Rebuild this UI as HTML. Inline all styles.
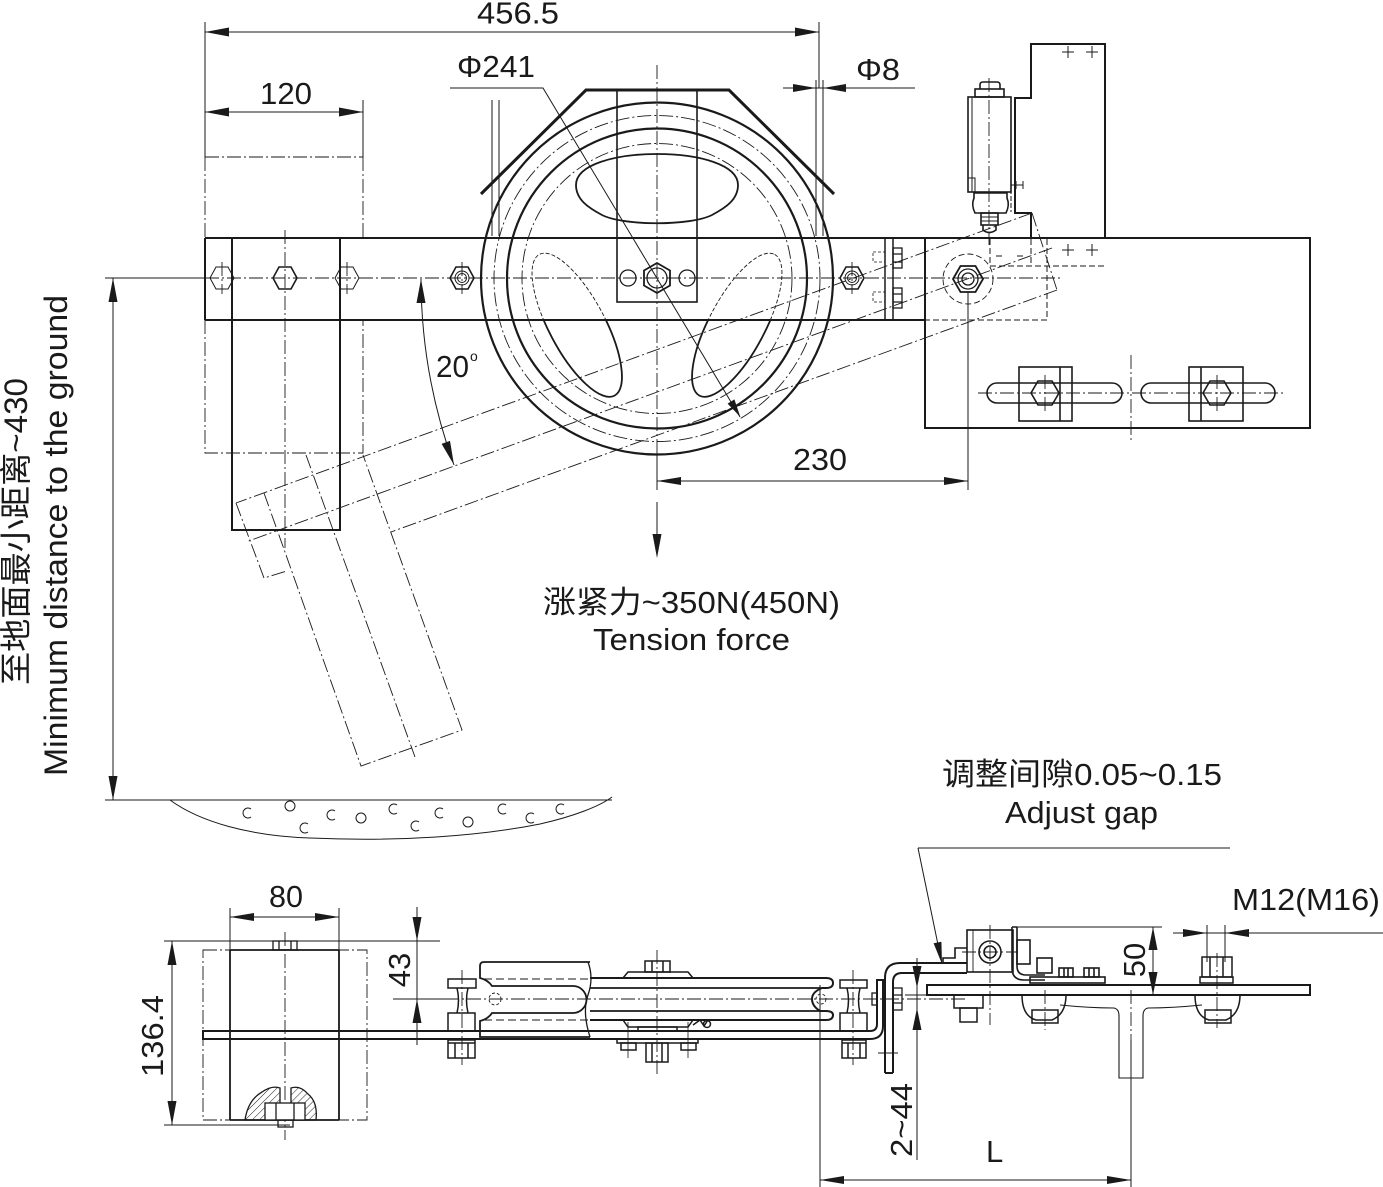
<!DOCTYPE html>
<html><head><meta charset="utf-8"><style>
html,body{margin:0;padding:0;background:#fff;}
svg{display:block;}
text{font-family:"Liberation Sans","Noto Sans CJK SC",sans-serif;fill:#1a1a1a;stroke:none;}
</style></head><body>
<svg width="1383" height="1187" viewBox="0 0 1383 1187" xmlns="http://www.w3.org/2000/svg">
<defs>
<pattern id="hatch" width="5" height="5" patternUnits="userSpaceOnUse" patternTransform="rotate(45)"><line x1="0" y1="0" x2="0" y2="5" stroke="#222" stroke-width="1"/></pattern>
<clipPath id="inbar"><rect x="400" y="238" width="500" height="82"/></clipPath>
<clipPath id="outbar"><rect x="400" y="320" width="500" height="200"/></clipPath>
</defs>
<g fill="none" stroke="#1a1a1a">

<!-- ===== TOP VIEW: dimension lines ===== -->
<g stroke-width="1">
<path d="M205,22 V157 M819,22 V88 M363,100 V157"/>
<path d="M205,32 H819 M205,112 H363 M783,88 H915"/>
<path d="M450,88 H543 L740,417"/>
<path d="M657,453 V490 M968,292 V490 M657,481 H968 M657,502 V540"/>
<path d="M105,278 H205 M113,278 V800 M105,800 H612"/>
<path d="M816,80 V236 M823,80 V236 M492,100 V236 M499,100 V236"/>
</g>
<g fill="#1a1a1a" stroke="none">
<polygon points="205,32 229,27.5 229,36.5"/><polygon points="819,32 795,27.5 795,36.5"/>
<polygon points="205,112 229,107.5 229,116.5"/><polygon points="363,112 339,107.5 339,116.5"/>
<polygon points="816,88 793,84 793,92"/><polygon points="823,88 846,84 846,92"/>
<polygon points="113,278 108.5,302 117.5,302"/><polygon points="113,800 108.5,776 117.5,776"/>
<polygon points="657,481 681,477 681,485"/><polygon points="968,481 944,477 944,485"/>
<polygon points="657,558 652.5,534 661.5,534"/>
<polygon points="740.3,416.9 734.4,399.4 727.6,403.6"/>
<polygon points="421,279 416.5,303 425.5,303"/>
<polygon points="454,465 450,440.9 441.6,443.9"/>
</g>
<!-- 20 deg arc -->
<path d="M421,279 A547,547 0 0,0 454,465" stroke-width="1"/>

<!-- centerlines -->
<g stroke-width="0.9" stroke-dasharray="14 3 2 3">
<path d="M205,278 H1060"/>
<path d="M657,65 V453"/>
<path d="M285,230 V548"/>
<path d="M222,262 V294 M347,262 V294 M462,262 V294 M852,262 V294"/>
<path d="M989,78 V245"/>
<path d="M978,393 H1285 M1131,355 V443 M1045,375 V411 M1217,375 V411"/>
<path d="M205,157 H363 M205,157 V238 M363,157 V238"/>
<path d="M205,320 V453 H363 V320"/>
<!-- rotated arm -->
<path d="M1032,213 L236,503 M1052,248 L246,542 M1057,290 L391,532"/>
<path d="M1032,213 L1057,290 M236,503 L264,578 L287,571"/>
<path d="M264,493 L361,766 L462,730 L363,455"/>
<path d="M306,455 L415,757"/>
</g>

<!-- bar & bracket -->
<g stroke-width="2">
<path d="M205,238 H1310 M205,320 H925 M205,238 V320"/>
<path d="M232,238 V530 H340 V238"/>
<path d="M885,238 V320 M893,238 V320" stroke-width="1.5"/>
</g>
<!-- hexes on bar -->
<g stroke-width="1">
<polygon points="210,278 216,267 228,267 234,278 228,289 216,289"/>
<polygon points="335,278 341,267 353,267 359,278 353,289 341,289"/>
</g>
<g stroke-width="1.6">
<polygon points="273,278 279,267 291,267 297,278 291,289 279,289"/>
<polygon points="450,278 456,267 468,267 474,278 468,289 456,289"/>
<polygon points="840,278 846,267 858,267 864,278 858,289 846,289"/>
</g>
<g stroke-width="1">
<circle cx="462" cy="278" r="7"/><circle cx="462" cy="278" r="4.5"/>
<circle cx="852" cy="278" r="7"/><circle cx="852" cy="278" r="4.5"/>
</g>
<!-- bolt heads near 893 -->
<g stroke-width="1.3">
<rect x="893" y="248" width="9" height="20"/><path d="M893,254 H902 M893,262 H902"/>
<rect x="893" y="288" width="9" height="20"/><path d="M893,294 H902 M893,302 H902"/>
</g>
<g stroke-width="0.8" stroke-dasharray="3 2">
<rect x="873" y="252" width="12" height="10"/><rect x="873" y="292" width="12" height="10"/>
</g>

<!-- wheel -->
<g>
<circle cx="657" cy="278.5" r="176" stroke-width="2.2"/>
<circle cx="657" cy="278.5" r="163" stroke-width="0.9" stroke-dasharray="14 3 2 3"/>
<circle cx="657" cy="278.5" r="150" stroke-width="2.2"/>
<circle cx="657" cy="278.5" r="135" stroke-width="0.9" stroke-dasharray="14 3 2 3"/>
</g>
<path d="M657,154 C700,154 738,165 738,185 C738,200 725,208 712,215 C690,226 624,226 602,215 C589,208 576,200 576,185 C576,165 614,154 657,154 Z" stroke-width="1.8"/>
<g clip-path="url(#inbar)" stroke-width="0.9" stroke-dasharray="4 2">
<ellipse cx="577" cy="325" rx="80" ry="28" transform="rotate(62 577 325)"/>
<ellipse cx="737" cy="325" rx="80" ry="28" transform="rotate(-62 737 325)"/>
</g>
<g clip-path="url(#outbar)" stroke-width="1.8">
<ellipse cx="577" cy="325" rx="80" ry="28" transform="rotate(62 577 325)"/>
<ellipse cx="737" cy="325" rx="80" ry="28" transform="rotate(-62 737 325)"/>
</g>
<!-- guard -->
<polyline points="481,194 586,90 729,90 834,194" stroke-width="3"/>
<!-- vertical plate -->
<rect x="617" y="90" width="80" height="212" stroke-width="1.6"/>
<g stroke-width="1.3">
<circle cx="628" cy="278" r="8"/><circle cx="687" cy="278" r="8"/>
<polygon points="657,263 670,270.5 670,285.5 657,293 644,285.5 644,270.5" stroke-width="1.8"/>
<circle cx="657" cy="278" r="10"/>
</g>

<!-- right bracket -->
<path d="M1031,238 V213 H1015 V98 H1031 V44 H1105 V238" stroke-width="2"/>
<path d="M1011,98 V212" stroke-width="1" stroke-dasharray="5 2"/>
<g stroke-width="1">
<path d="M1062,52 H1074 M1068,46 V58 M1086,52 H1098 M1092,46 V58"/>
<path d="M1062,250 H1074 M1068,244 V256 M1086,250 H1098 M1092,244 V256"/>
<path d="M996,256 H1002 M1017,256 H1023"/>
</g>
<g stroke-width="1" stroke-dasharray="6 3">
<path d="M990,239 V266 H1105 M1031,239 V266 M1047,239 V320 H925"/>
</g>
<!-- switch -->
<g stroke-width="1.6">
<rect x="968" y="97" width="43" height="95"/>
<rect x="975" y="89" width="29" height="8"/>
<path d="M980,89 V85 Q980,82 983,82 H997 Q1000,82 1000,85 V89"/>
<path d="M974,193 H1007 V198 Q1010,205 1006,213 H975 Q971,205 974,198 Z"/>
<rect x="981" y="213" width="17" height="12"/>
<path d="M983,225 V230 Q989,235 996,230 V225"/>
</g>
<g stroke-width="1">
<path d="M972,97 V192 M968,178 H975 V192 M981,217 H998 M981,221 H998"/>
<path d="M1011,185 H1023 M1016,181 V189 M1023,181 V189"/>
</g>
<!-- pivot -->
<circle cx="968" cy="279" r="25" stroke-width="0.9" stroke-dasharray="6 3"/>
<polygon points="953,279 960.5,266 975.5,266 983,279 975.5,292 960.5,292" stroke-width="1.8"/>
<circle cx="968" cy="279" r="10" stroke-width="1.3"/>
<circle cx="968" cy="279" r="6" stroke-width="1.3"/>
<!-- right plate -->
<rect x="925" y="238" width="385" height="190" stroke-width="2"/>
<g stroke-width="1.6">
<rect x="987" y="383" width="135" height="20" rx="10"/>
<rect x="1141" y="383" width="134" height="20" rx="10"/>
<rect x="1019" y="367" width="53" height="54"/><path d="M1060,367 V421"/>
<rect x="1189" y="367" width="54" height="54"/><path d="M1201,367 V421"/>
<polygon points="1031,393 1038,381 1052,381 1059,393 1052,405 1038,405"/>
<polygon points="1203,393 1210,381 1224,381 1231,393 1224,405 1210,405"/>
</g>

<!-- ground -->
<path d="M170,800 C200,822 250,836 310,838 C400,842 480,836 540,824 C575,816 600,806 612,797" stroke-width="1"/>
<g stroke-width="1">
<path d="M251,809 A5,5 0 1 0 251,817"/><circle cx="290" cy="806" r="5"/><path d="M308,824 A5,5 0 1 0 308,832"/>
<path d="M335,811 A5,5 0 1 0 335,819"/><circle cx="361" cy="818" r="5"/><path d="M397,805 A5,5 0 1 0 397,813"/>
<path d="M419,822 A5,5 0 1 0 419,830"/><path d="M443,809 A5,5 0 1 0 443,817"/><circle cx="468" cy="822" r="5"/>
<path d="M506,805 A5,5 0 1 0 506,813"/><path d="M534,814 A5,5 0 1 0 534,822"/><path d="M564,805 A5,5 0 1 0 564,813"/>
</g>

<!-- ===== BOTTOM VIEW ===== -->
<g stroke-width="1">
<path d="M230,908 V950 M339,908 V950 M230,917 H339"/>
<path d="M164,941 H440 M164,1125 H290 M172,941 V1125"/>
<path d="M417,907 V1045 M393,999 H445"/>
<path d="M917,958 V1160 M905,995 H930"/>
<path d="M820,985 V1187 M820,1180 H1131 M1131,1040 V1187"/>
<path d="M1017,927 H1162 M1153,927 V995"/>
<path d="M1207,925 V962 M1225,925 V962 M1173,933 H1383"/>
<path d="M918,848 H1230 M918,848 L942,964"/>
</g>
<g fill="#1a1a1a" stroke="none">
<polygon points="230,917 254,913 254,921"/><polygon points="339,917 315,913 315,921"/>
<polygon points="172,941 167.5,965 176.5,965"/><polygon points="172,1125 167.5,1101 176.5,1101"/>
<polygon points="417,941 412.5,917 421.5,917"/><polygon points="417,999 412.5,1023 421.5,1023"/>
<polygon points="917,988 912.5,966 921.5,966"/><polygon points="917,1008 912.5,1030 921.5,1030"/>
<polygon points="820,1180 844,1176 844,1184"/><polygon points="1131,1180 1107,1176 1107,1184"/>
<polygon points="1153,927 1148.5,950 1157.5,950"/><polygon points="1153,995 1148.5,972 1157.5,972"/>
<polygon points="1207,933 1183,929 1183,937"/><polygon points="1225,933 1249,929 1249,937"/>
<polygon points="942,964 941.4,941.7 933.6,943.3"/>
</g>
<g stroke-width="0.9" stroke-dasharray="14 3 2 3">
<rect x="203" y="950" width="164" height="170"/>
<path d="M285,932 V1140 M445,999 H965 M462,970 V1065 M657,950 V1075 M853,970 V1065"/>
<path d="M990,925 V1025 M962,952 H1018 M1217,953 V1028 M1131,990 V1040 M1045,990 V1030"/>
</g>
<!-- block -->
<g stroke-width="1.8">
<path d="M230,950 V1120 M339,950 V1120 M230,950 H339 M230,1120 H339"/>
</g>
<g stroke-width="1.3">
<rect x="273" y="941" width="24" height="9"/><path d="M279,941 V950 M291,941 V950"/>
<path d="M245,1120 Q248,1100 262,1092 Q272,1085 280,1088 L280,1120 Z" fill="url(#hatch)"/>
<path d="M291,1088 Q300,1085 308,1094 Q318,1102 316,1120 L291,1120 Z" fill="url(#hatch)"/>
<rect x="265" y="1103" width="40" height="17" fill="#fff"/><path d="M276,1103 V1120 M294,1103 V1120"/>
<rect x="278" y="1120" width="15" height="7"/>
</g>
<!-- arm plate -->
<path d="M203,1031 H870 Q877,1031 877,1024 V980 H883 V1026 Q883,1039 870,1039 H203 Z" stroke-width="2"/>
<!-- bolts -->
<g stroke-width="1.5">
<rect x="448" y="979" width="28" height="9"/>
<path d="M457,988 Q460,1000 457,1013 M468,988 Q465,1000 468,1013"/>
<rect x="448" y="1013" width="27" height="18"/>
<rect x="448" y="1040" width="27" height="18"/><path d="M455,1043 V1058 M468,1043 V1058 M448,1043 H475"/>
<rect x="840" y="980" width="27" height="8"/>
<path d="M847,988 Q850,1000 847,1013 M860,988 Q857,1000 860,1013"/>
<rect x="840" y="1013" width="27" height="18"/>
<rect x="842" y="1040" width="24" height="18"/><path d="M848,1043 V1058 M860,1043 V1058 M842,1043 H866"/>
</g>
<!-- U part -->
<path d="M590,962 H484 Q480,962 480,966 V978 Q488,980 492,986 H573 A13.5,13.5 0 0 1 573,1013 H492 Q488,1019 480,1021 V1037 H590" stroke-width="1.8"/>
<path d="M588,962 Q594,978 588,995 Q582,1012 590,1037" stroke-width="1.3"/>
<path d="M484,979 H588 M484,1020 H588" stroke-width="1" stroke-dasharray="8 4"/>
<circle cx="495" cy="999" r="6" stroke-width="0.9" stroke-dasharray="3 2"/>
<!-- wheel side -->
<path d="M590,978 H826 Q833,978 833,983 Q833,988 826,988 H822 Q812,992 812,999 Q812,1006 820,1011 H826 Q833,1011 833,1015 Q833,1020 826,1020 H590" stroke-width="2"/>
<path d="M590,988 H822 M590,1011 H820" stroke-width="1.8"/>
<circle cx="821" cy="999" r="5" stroke-width="0.9" stroke-dasharray="3 2"/>
<g stroke-width="1.5">
<path d="M623,978 L628,972 H688 L693,978"/>
<rect x="645" y="961" width="25" height="11"/><path d="M652,961 V972 M663,961 V972"/>
<path d="M623,1020 L628,1027 H688 L693,1020"/>
<rect x="638" y="1027" width="39" height="4"/>
<path d="M693,1025 L700,1020 L704,1026 L708,1020"/><circle cx="707" cy="1024" r="3.5"/>
<rect x="617" y="1039" width="81" height="4"/>
<rect x="621" y="1043" width="15" height="7"/><rect x="681" y="1043" width="15" height="7"/>
<rect x="646" y="1043" width="22" height="19"/><path d="M652,1043 V1062 M662,1043 V1062"/>
</g>
<path d="M628,1022 V1058 M688,1022 V1058" stroke-width="0.8"/>
<!-- L bracket -->
<path d="M885,1073 V978 Q885,963 900,963 H967 M893,1073 V982 Q893,973 902,973 H967 M885,1073 H893" stroke-width="2"/>
<g stroke-width="1.3">
<rect x="872" y="993" width="5" height="12"/>
<rect x="893" y="988" width="9" height="22"/><path d="M893,995 H902 M893,1003 H902"/>
</g>
<path d="M878,1053 H898" stroke-width="0.9"/>
<!-- adjust block -->
<g stroke-width="1.6">
<path d="M943,964 V958 H955 V948 H967"/>
<rect x="967" y="930" width="46" height="42"/>
<circle cx="990" cy="952" r="11"/><circle cx="990" cy="952" r="6"/>
<path d="M1012,927 V968 Q1012,980 1024,980 H1045 M1017,927 V966 Q1017,975 1026,975 H1045 M1012,927 H1017"/>
<rect x="1017" y="940" width="13" height="24"/>
<rect x="1037" y="958" width="15" height="15"/>
<rect x="1059" y="968" width="14" height="9"/><path d="M1064,968 V977 M1068,968 V977"/>
<rect x="1084" y="968" width="15" height="9"/><path d="M1089,968 V977 M1094,968 V977"/>
<rect x="1030" y="977" width="75" height="6"/>
</g>
<path d="M973,930 V972" stroke-width="0.9"/>
<rect x="927" y="985" width="383" height="10" stroke-width="2"/>
<g stroke-width="1.5">
<rect x="954" y="995" width="29" height="13"/><rect x="960" y="1008" width="17" height="14"/>
<path d="M1022,995 Q1022,1016 1036,1020 H1052 Q1066,1014 1066,995"/>
<rect x="1032" y="1010" width="26" height="13"/>
<path d="M1195,995 Q1195,1016 1209,1020 H1226 Q1240,1014 1240,995"/>
<rect x="1205" y="1010" width="26" height="13"/>
<rect x="1202" y="957" width="30" height="20"/><path d="M1210,957 V977 M1223,957 V977"/>
<rect x="1200" y="977" width="33" height="6"/>
</g>
<path d="M1060,1005 Q1090,1008 1114,1008 Q1119,1009 1119,1016 V1078 H1143 V1016 Q1143,1009 1148,1008 Q1172,1008 1202,1005" stroke-width="1.1"/>
</g>

<!-- ===== TEXT ===== -->
<g font-size="31">
<text x="477" y="23.5" textLength="82" lengthAdjust="spacingAndGlyphs">456.5</text>
<text x="260" y="104" textLength="52" lengthAdjust="spacingAndGlyphs">120</text>
<text x="457" y="77" textLength="78" lengthAdjust="spacingAndGlyphs">Φ241</text>
<text x="856" y="80" textLength="44" lengthAdjust="spacingAndGlyphs">Φ8</text>
<text x="436" y="377" textLength="33" lengthAdjust="spacingAndGlyphs">20</text>
<text x="470" y="361" font-size="14">o</text>
<text x="793" y="470" textLength="54" lengthAdjust="spacingAndGlyphs">230</text>
<text x="543" y="613" textLength="297" lengthAdjust="spacingAndGlyphs">涨紧力~350N(450N)</text>
<text x="593" y="650" textLength="197" lengthAdjust="spacingAndGlyphs">Tension force</text>
<text x="269" y="907" textLength="34" lengthAdjust="spacingAndGlyphs">80</text>
<text x="986" y="1162">L</text>
<text x="1232" y="910" textLength="148" lengthAdjust="spacingAndGlyphs">M12(M16)</text>
<text x="942" y="785" textLength="280" lengthAdjust="spacingAndGlyphs">调整间隙0.05~0.15</text>
<text x="1005" y="823" textLength="153" lengthAdjust="spacingAndGlyphs">Adjust gap</text>
<text transform="rotate(-90 163 1036)" x="163" y="1036" text-anchor="middle" textLength="82" lengthAdjust="spacingAndGlyphs">136.4</text>
<text transform="rotate(-90 410 970)" x="410" y="970" text-anchor="middle">43</text>
<text transform="rotate(-90 1145 960)" x="1145" y="960" text-anchor="middle">50</text>
<text transform="rotate(-90 912 1120)" x="912" y="1120" text-anchor="middle" textLength="74" lengthAdjust="spacingAndGlyphs">2~44</text>
</g>
<text transform="rotate(-90 67 535.5)" x="67" y="535.5" text-anchor="middle" font-size="32" textLength="481" lengthAdjust="spacingAndGlyphs">Minimum distance to the ground</text>
<text transform="rotate(-90 27 531.5)" x="27" y="531.5" text-anchor="middle" font-size="32" textLength="307" lengthAdjust="spacingAndGlyphs">至地面最小距离~430</text>
</svg>
</body></html>
